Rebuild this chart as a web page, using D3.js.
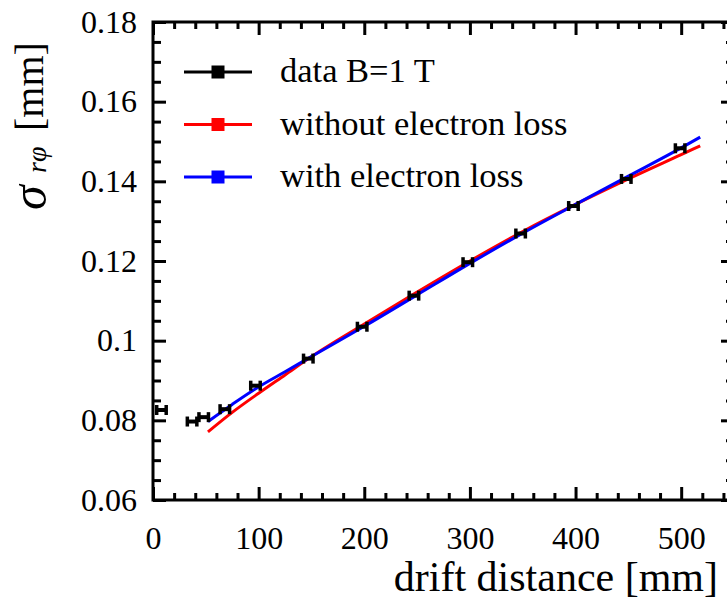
<!DOCTYPE html>
<html>
<head>
<meta charset="utf-8">
<script src="https://cdn.jsdelivr.net/npm/d3@7"></script>
<style>
  body { margin: 0; background: #fff; }
  svg { display: block; }
  text { font-family: "Liberation Serif", "Times New Roman", serif; fill: #000; }
</style>
</head>
<body>
<svg id="chart" width="727" height="601"></svg>
<script>
// Measured resolution vs drift distance
const dataX    = [8, 37, 48, 68, 97, 147, 198, 247, 298, 348, 398, 448, 499];
const dataY    = [0.0826, 0.0797, 0.0808, 0.0828, 0.0887, 0.0955, 0.1035, 0.1113, 0.1197, 0.1269, 0.1338, 0.1406, 0.1483];
const dataXErr = [4.5, 4.5, 4.5, 4.5, 4.5, 4.5, 4.5, 4.5, 4.5, 4.5, 4.5, 4.5, 4.5];

// Simulation curves
const simX          = [52, 75, 100, 125, 150, 200, 250, 300, 350, 400, 450, 500, 518];
const noLossY       = [0.0771, 0.0820, 0.0868, 0.0914, 0.0960, 0.1042, 0.1122, 0.1200, 0.1274, 0.1342, 0.1406, 0.1467, 0.1489];
const withLossY     = [0.0797, 0.0840, 0.0884, 0.0922, 0.0960, 0.1036, 0.1115, 0.1194, 0.1270, 0.1342, 0.1413, 0.1484, 0.1511];

// Axis ticks
const xMajorTicks = [0, 100, 200, 300, 400, 500];
const xTickLabels = ["0", "100", "200", "300", "400", "500"];
const yMajorTicks = [0.06, 0.08, 0.10, 0.12, 0.14, 0.16, 0.18];
const yTickLabels = ["0.06", "0.08", "0.1", "0.12", "0.14", "0.16", "0.18"];

const legendLabels = ["data B=1 T", "without electron loss", "with electron loss"];
const legendColors = ["#000000", "#ff0000", "#0000ff"];

const svg = d3.select("#chart");

const plotLeft = 153, plotRight = 734, plotTop = 22, plotBottom = 500;
const x = d3.scaleLinear().domain([0, 550]).range([plotLeft, plotRight]);
const y = d3.scaleLinear().domain([0.06, 0.18]).range([plotBottom, plotTop]);

const xMinor = d3.range(0, 551, 20).filter(v => v % 100 !== 0);
const yMinor = d3.range(0, 25).map(i => +(0.06 + i * 0.005).toFixed(3)).filter(v => v <= 0.18 && Math.round(v * 1000) % 20 !== 0);

function styleAxis(g, fontSize) {
  g.select(".domain").remove();
  g.selectAll(".tick line").attr("stroke", "#000").attr("stroke-width", 3);
  g.selectAll(".tick text").style("font-size", fontSize + "px").attr("fill", "#000");
}

// Bottom axis
svg.append("g").attr("transform", `translate(0,${plotBottom})`)
  .call(d3.axisBottom(x).tickValues(xMajorTicks).tickSize(-13).tickPadding(26)
    .tickFormat((d, i) => xTickLabels[i]))
  .call(g => styleAxis(g, 32));
svg.append("g").attr("transform", `translate(0,${plotBottom})`)
  .call(d3.axisBottom(x).tickValues(xMinor).tickSize(-7).tickFormat(""))
  .call(g => styleAxis(g, 32));

// Top axis
svg.append("g").attr("transform", `translate(0,${plotTop})`)
  .call(d3.axisTop(x).tickValues(xMajorTicks).tickSize(-13).tickFormat(""))
  .call(g => styleAxis(g, 32));
svg.append("g").attr("transform", `translate(0,${plotTop})`)
  .call(d3.axisTop(x).tickValues(xMinor).tickSize(-7).tickFormat(""))
  .call(g => styleAxis(g, 32));

// Left axis
svg.append("g").attr("transform", `translate(${plotLeft},0)`)
  .call(d3.axisLeft(y).tickValues(yMajorTicks).tickSize(-13).tickPadding(16)
    .tickFormat((d, i) => yTickLabels[i]))
  .call(g => styleAxis(g, 32));
svg.append("g").attr("transform", `translate(${plotLeft},0)`)
  .call(d3.axisLeft(y).tickValues(yMinor).tickSize(-8).tickFormat(""))
  .call(g => styleAxis(g, 32));

// Right axis
svg.append("g").attr("transform", `translate(${plotRight},0)`)
  .call(d3.axisRight(y).tickValues(yMajorTicks).tickSize(-13).tickFormat(""))
  .call(g => styleAxis(g, 32));
svg.append("g").attr("transform", `translate(${plotRight},0)`)
  .call(d3.axisRight(y).tickValues(yMinor).tickSize(-8).tickFormat(""))
  .call(g => styleAxis(g, 32));

// Frame
svg.append("rect")
  .attr("x", plotLeft).attr("y", plotTop)
  .attr("width", plotRight - plotLeft).attr("height", plotBottom - plotTop)
  .attr("fill", "none").attr("stroke", "#000").attr("stroke-width", 3);

// Simulation curves
const line = d3.line().x(d => x(d[0])).y(d => y(d[1])).curve(d3.curveMonotoneX);
svg.append("path")
  .attr("d", line(simX.map((v, i) => [v, noLossY[i]])))
  .attr("fill", "none").attr("stroke", legendColors[1]).attr("stroke-width", 3);
svg.append("path")
  .attr("d", line(simX.map((v, i) => [v, withLossY[i]])))
  .attr("fill", "none").attr("stroke", legendColors[2]).attr("stroke-width", 3);

// Data points with horizontal error bars
const pts = svg.append("g").attr("stroke", "#000");
dataX.forEach((v, i) => {
  const x0 = x(v - dataXErr[i]), x1 = x(v + dataXErr[i]), yy = y(dataY[i]);
  pts.append("line").attr("x1", x0).attr("x2", x1).attr("y1", yy).attr("y2", yy).attr("stroke-width", 4);
  pts.append("line").attr("x1", x0).attr("x2", x0).attr("y1", yy - 5).attr("y2", yy + 5).attr("stroke-width", 3.5);
  pts.append("line").attr("x1", x1).attr("x2", x1).attr("y1", yy - 5).attr("y2", yy + 5).attr("stroke-width", 3.5);
});

// Legend
const legend = svg.append("g");
legendLabels.forEach((label, i) => {
  const ly = 72 + i * 52.5;
  legend.append("line").attr("x1", 184).attr("x2", 252).attr("y1", ly).attr("y2", ly)
    .attr("stroke", legendColors[i]).attr("stroke-width", 3);
  legend.append("rect").attr("x", 218 - 6.5).attr("y", ly - 6.5).attr("width", 13).attr("height", 13)
    .attr("fill", legendColors[i]);
  legend.append("text").attr("x", 280).attr("y", ly + 10).style("font-size", "34.5px").text(label);
});

// Axis titles
svg.append("text")
  .attr("x", 718).attr("y", 591)
  .attr("text-anchor", "end")
  .style("font-size", "42px")
  .text("drift distance [mm]");

// Rotated y title: sigma with r-phi subscript, then the unit
const yTitle = svg.append("g").attr("transform", "rotate(-90)");
yTitle.append("text").attr("x", -210).attr("y", 46)
  .style("font-style", "italic").style("font-size", "50px").text("σ");
yTitle.append("text").attr("x", -173).attr("y", 46)
  .style("font-style", "italic").style("font-size", "28px").text("rφ");
yTitle.append("text").attr("x", -131).attr("y", 43)
  .style("font-size", "40px").text("[mm]");
</script>
</body>
</html>
